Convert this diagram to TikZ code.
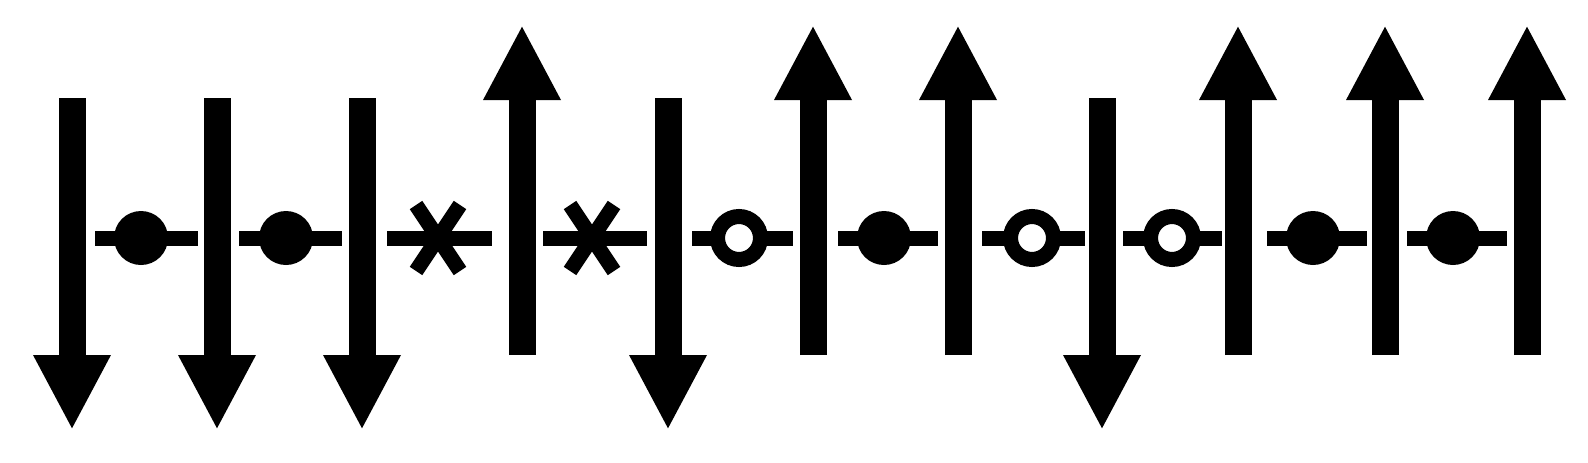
\documentclass[tikz,border=0pt]{standalone}
\usetikzlibrary{arrows.meta}
\begin{document}
\begin{tikzpicture}[x=0.5pt,y=0.5pt,
  spin/.style={line width=13.5pt,-{Triangle[width=36pt,length=37.5pt]}},
  bond/.style={line width=7.5pt},
  ringsite/.style={line width=7.5pt}]
  \useasboundingbox (0,0) rectangle (1588,462);

  % spins: tail and tip
  \coordinate (s1) at (72,364);    \coordinate (s1e) at (72,32);
  \coordinate (s2) at (217,364);   \coordinate (s2e) at (217,32);
  \coordinate (s3) at (362,364);   \coordinate (s3e) at (362,32);
  \coordinate (s4) at (522,107);   \coordinate (s4e) at (522,437);
  \coordinate (s5) at (668,364);   \coordinate (s5e) at (668,32);
  \coordinate (s6) at (813,107);   \coordinate (s6e) at (813,437);
  \coordinate (s7) at (958,107);   \coordinate (s7e) at (958,437);
  \coordinate (s8) at (1102,364);  \coordinate (s8e) at (1102,32);
  \coordinate (s9) at (1238,107);  \coordinate (s9e) at (1238,437);
  \coordinate (s10) at (1385,107); \coordinate (s10e) at (1385,437);
  \coordinate (s11) at (1527,107); \coordinate (s11e) at (1527,437);

  \draw[spin] (s1) -- (s1e);
  \draw[spin] (s2) -- (s2e);
  \draw[spin] (s3) -- (s3e);
  \draw[spin] (s4) -- (s4e);
  \draw[spin] (s5) -- (s5e);
  \draw[spin] (s6) -- (s6e);
  \draw[spin] (s7) -- (s7e);
  \draw[spin] (s8) -- (s8e);
  \draw[spin] (s9) -- (s9e);
  \draw[spin] (s10) -- (s10e);
  \draw[spin] (s11) -- (s11e);

  % bonds
  \draw[bond] (95,224) -- (198,224);
  \draw[bond] (239,224) -- (342,224);
  \draw[bond] (387,224) -- (492,224);
  \draw[bond] (543,224) -- (647,224);
  \draw[bond] (692,224) -- (793,224);
  \draw[bond] (838,224) -- (938,224);
  \draw[bond] (982,224) -- (1085,224);
  \draw[bond] (1123,224) -- (1222,224);
  \draw[bond] (1267,224) -- (1367,224);
  \draw[bond] (1407,224) -- (1507,224);

  % sites
  \fill (141,224) circle (27);
  \fill (286,224) circle (27);
  \draw[bond] (438,224) +(-22,33) -- +(22,-33);
  \draw[bond] (438,224) +(-22,-33) -- +(22,33);
  \draw[bond] (592,224) +(-22,33) -- +(22,-33);
  \draw[bond] (592,224) +(-22,-33) -- +(22,33);
  \draw[ringsite,fill=white] (739,224) circle (21.5);
  \fill (884,224) circle (27);
  \draw[ringsite,fill=white] (1032,224) circle (21.5);
  \draw[ringsite,fill=white] (1172,224) circle (21.5);
  \fill (1313,224) circle (27);
  \fill (1453,224) circle (27);
\end{tikzpicture}
\end{document}
